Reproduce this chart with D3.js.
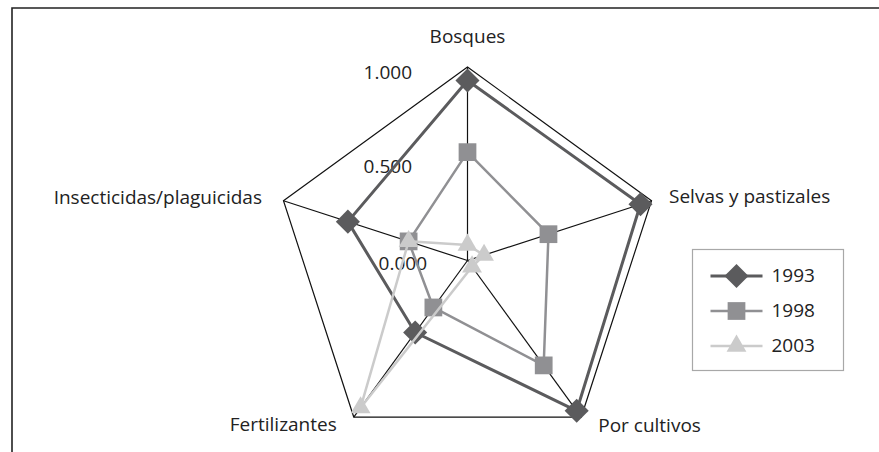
<!DOCTYPE html>
<html>
<head>
<meta charset="utf-8">
<script src="https://cdn.jsdelivr.net/npm/d3@7"></script>
<style>
  body { margin: 0; background: #fff; }
  text { font-family: "Open Sans", "Noto Sans", sans-serif; fill: #222; }
</style>
</head>
<body>
<svg id="chart"></svg>
<script>
// ejes del radar y series
const axes = ["Bosques", "Selvas y pastizales", "Por cultivos", "Fertilizantes", "Insecticidas/plaguicidas"];
const years = ["1993", "1998", "2003"];
const v1993 = [0.93, 0.94, 0.96, 0.46, 0.65];
const v1998 = [0.56, 0.44, 0.67, 0.30, 0.32];
const v2003 = [0.08, 0.09, 0.04, 0.94, 0.32];
const ticks = [0, 0.5, 1];

var width = 879, height = 452;
var cx = 467.5, cy = 260.5, R = 193.5;

var svg = d3.select("#chart").attr("width", width).attr("height", height);

// marco: sólo arriba e izquierda
svg.append("path")
  .attr("d", "M12,452 L12,8 L879,8")
  .attr("fill", "none").attr("stroke", "#222").attr("stroke-width", 1.6);

var r = d3.scaleLinear().domain([0, 1]).range([0, R]);
var angle = d3.scalePoint().domain(axes).range([0, 2 * Math.PI * 4 / 5]);

function pt(name, v) {
  var a = angle(name);
  return [cx + r(v) * Math.sin(a), cy - r(v) * Math.cos(a)];
}

var g = svg.append("g");

// rejilla exterior y radios
g.append("path")
  .attr("d", d3.line()(axes.map(a => pt(a, 1))) + "Z")
  .attr("fill", "none").attr("stroke", "#111").attr("stroke-width", 1.2);
g.selectAll(".spoke").data(axes).enter().append("line")
  .attr("x1", cx).attr("y1", cy)
  .attr("x2", d => pt(d, 1)[0]).attr("y2", d => pt(d, 1)[1])
  .attr("stroke", "#111").attr("stroke-width", 1.2);

// etiquetas de escala
var tickOff = {0: [-40.5, 4.5], 0.5: [-55.5, 4.5], 1: [-55.5, 7]};
g.selectAll(".tick").data(ticks).enter().append("text")
  .attr("x", d => cx + tickOff[d][0])
  .attr("y", d => cy - r(d) + tickOff[d][1])
  .attr("text-anchor", "end")
  .attr("dominant-baseline", "middle")
  .style("font-size", "19px")
  .text(d => d3.format(".3f")(d));

// etiquetas de ejes
var labelPos = {
  "Bosques": [0, -29, "middle"],
  "Selvas y pastizales": [17.5, -2.5, "start"],
  "Por cultivos": [17, 10, "start"],
  "Fertilizantes": [-17, 9, "end"],
  "Insecticidas/plaguicidas": [-21.5, -1.5, "end"]
};
g.selectAll(".axlab").data(axes).enter().append("text")
  .attr("x", d => pt(d, 1)[0] + labelPos[d][0])
  .attr("y", d => pt(d, 1)[1] + labelPos[d][1])
  .attr("text-anchor", d => labelPos[d][2])
  .attr("dominant-baseline", "middle")
  .style("font-size", "19px")
  .text(d => d);

var series = [
  {name: years[0], values: v1993, color: "#5b5b5d", width: 3, symbol: d3.symbolSquare, size: 290, rot: 45},
  {name: years[1], values: v1998, color: "#909093", width: 2.5, symbol: d3.symbolSquare, size: 315, rot: 0},
  {name: years[2], values: v2003, color: "#cbcbcb", width: 2.5, symbol: d3.symbolTriangle, size: 170, rot: 0}
];

series.forEach(function(s) {
  var pts = axes.map((a, i) => pt(a, s.values[i]));
  g.append("path")
    .attr("d", d3.line()(pts) + "Z")
    .attr("fill", "none").attr("stroke", s.color).attr("stroke-width", s.width)
    .attr("stroke-linejoin", "round");
  g.selectAll(null).data(pts).enter().append("path")
    .attr("transform", d => "translate(" + d[0] + "," + d[1] + ") rotate(" + s.rot + ")")
    .attr("d", d3.symbol().type(s.symbol).size(s.size))
    .attr("fill", s.color);
});

// leyenda
var leg = svg.append("g").attr("transform", "translate(692.5,249.5)");
leg.append("rect").attr("width", 151).attr("height", 121)
  .attr("fill", "#fff").attr("stroke", "#a8a8a8").attr("stroke-width", 1.2);
series.forEach(function(s, i) {
  var y = 26.5 + i * 35;
  leg.append("line").attr("x1", 18).attr("x2", 70).attr("y1", y).attr("y2", y)
    .attr("stroke", s.color).attr("stroke-width", s.width);
  leg.append("path").attr("transform", "translate(44," + y + ") rotate(" + s.rot + ")")
    .attr("d", d3.symbol().type(s.symbol).size(s.size)).attr("fill", s.color);
  leg.append("text").attr("x", 79).attr("y", y + 1)
    .attr("dominant-baseline", "middle")
    .style("font-size", "19px")
    .text(s.name);
});
</script>
</body>
</html>
